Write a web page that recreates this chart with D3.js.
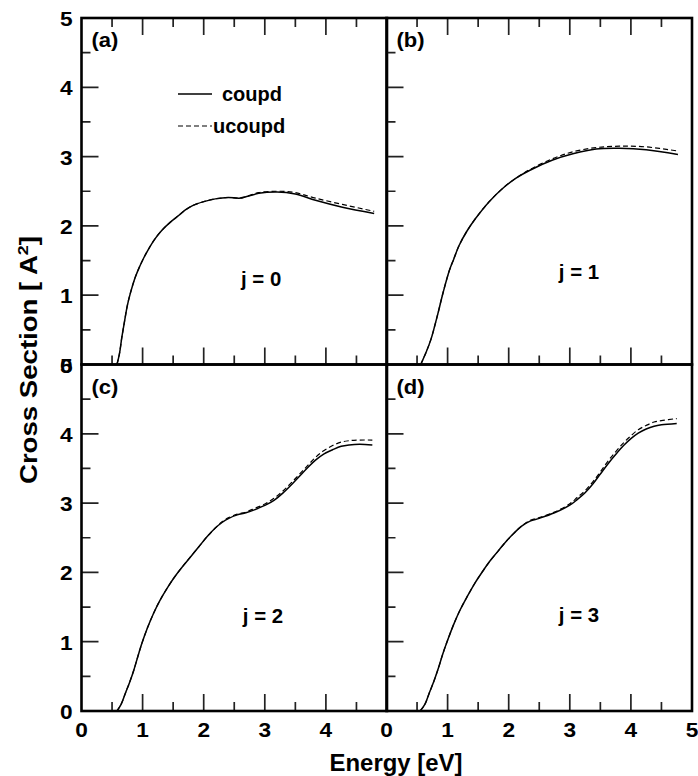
<!DOCTYPE html>
<html><head><meta charset="utf-8">
<script src="https://cdn.jsdelivr.net/npm/d3@7"></script>
<style>body{margin:0;background:#fff}svg{display:block}</style>
</head><body><svg id="c" width="698" height="776"></svg>
<script>
// ---- data ----
const panels = ["(a)", "(b)", "(c)", "(d)"];
const jLabels = ["j = 0", "j = 1", "j = 2", "j = 3"];
const seriesNames = ["coupd", "ucoupd"];
const xTickLabelsLeft = [0, 1, 2, 3, 4];
const xTickLabelsRight = [0, 1, 2, 3, 4, 5];
const yTickLabels = [0, 1, 2, 3, 4, 5];
const majorTicks = [1, 2, 3, 4];
const minorTicks = [0.5, 1.5, 2.5, 3.5, 4.5];

const aCoupd = [[0.58,0],[0.62,0.15],[0.66,0.39],[0.70,0.60],[0.75,0.85],[0.80,1.03],[0.88,1.26],[0.95,1.41],[1.02,1.54],[1.10,1.67],[1.20,1.81],[1.32,1.94],[1.45,2.05],[1.59,2.15],[1.70,2.23],[1.81,2.29],[2.0,2.35],[2.19,2.39],[2.4,2.41],[2.58,2.40],[2.69,2.42],[2.90,2.47],[3.20,2.49],[3.50,2.46],[3.83,2.37],[4.27,2.27],[4.79,2.18]];
const aUcoupd = [[0.58,0],[0.62,0.15],[0.66,0.39],[0.70,0.60],[0.75,0.85],[0.80,1.03],[0.88,1.26],[0.95,1.41],[1.02,1.54],[1.10,1.67],[1.20,1.81],[1.32,1.94],[1.45,2.05],[1.59,2.15],[1.70,2.23],[1.81,2.29],[2.0,2.35],[2.19,2.39],[2.4,2.41],[2.58,2.40],[2.69,2.42],[2.90,2.48],[3.20,2.50],[3.50,2.48],[3.83,2.40],[4.27,2.31],[4.79,2.21]];
const bCoupd = [[0.56,0],[0.65,0.18],[0.73,0.37],[0.79,0.56],[0.84,0.73],[0.93,1.05],[1.03,1.36],[1.10,1.52],[1.19,1.72],[1.32,1.93],[1.46,2.11],[1.68,2.35],[1.90,2.54],[2.12,2.69],[2.34,2.80],[2.72,2.95],[3.05,3.04],[3.43,3.11],[3.81,3.12],[4.25,3.10],[4.77,3.03]];
const bUcoupd = [[0.56,0],[0.65,0.18],[0.73,0.37],[0.79,0.56],[0.84,0.73],[0.93,1.05],[1.03,1.36],[1.10,1.52],[1.19,1.72],[1.32,1.93],[1.46,2.11],[1.68,2.35],[1.90,2.54],[2.12,2.69],[2.34,2.81],[2.72,2.97],[3.05,3.07],[3.43,3.13],[3.81,3.15],[4.25,3.14],[4.77,3.08]];
const cCoupd = [[0.58,0],[0.65,0.10],[0.72,0.26],[0.79,0.42],[0.86,0.60],[0.92,0.78],[0.99,0.98],[1.08,1.20],[1.18,1.41],[1.28,1.59],[1.40,1.77],[1.52,1.93],[1.65,2.08],[1.78,2.22],[1.92,2.37],[2.05,2.51],[2.19,2.64],[2.30,2.72],[2.41,2.78],[2.55,2.83],[2.69,2.86],[2.85,2.91],[3.01,2.97],[3.15,3.04],[3.29,3.14],[3.42,3.25],[3.56,3.38],[3.70,3.51],[3.83,3.62],[3.97,3.71],[4.11,3.77],[4.25,3.82],[4.38,3.84],[4.55,3.85],[4.76,3.84]];
const cUcoupd = [[0.58,0],[0.65,0.10],[0.72,0.26],[0.79,0.42],[0.86,0.60],[0.92,0.78],[0.99,0.98],[1.08,1.20],[1.18,1.41],[1.28,1.59],[1.40,1.77],[1.52,1.93],[1.65,2.08],[1.78,2.22],[1.92,2.37],[2.05,2.51],[2.19,2.64],[2.30,2.73],[2.41,2.79],[2.55,2.84],[2.69,2.87],[2.85,2.93],[3.01,2.99],[3.15,3.07],[3.29,3.17],[3.42,3.28],[3.56,3.41],[3.70,3.54],[3.83,3.66],[3.97,3.76],[4.11,3.83],[4.25,3.88],[4.38,3.90],[4.55,3.91],[4.76,3.91]];
const dCoupd = [[0.55,0],[0.63,0.10],[0.70,0.26],[0.78,0.44],[0.85,0.62],[0.92,0.82],[1.0,1.02],[1.1,1.25],[1.2,1.45],[1.32,1.65],[1.45,1.85],[1.57,2.01],[1.69,2.16],[1.82,2.30],[1.95,2.44],[2.08,2.56],[2.2,2.66],[2.35,2.74],[2.5,2.78],[2.75,2.86],[3.0,2.97],[3.12,3.05],[3.25,3.15],[3.38,3.28],[3.5,3.42],[3.62,3.56],[3.75,3.70],[3.88,3.83],[4.0,3.93],[4.12,4.01],[4.25,4.07],[4.38,4.11],[4.5,4.13],[4.75,4.15]];
const dUcoupd = [[0.55,0],[0.63,0.10],[0.70,0.26],[0.78,0.44],[0.85,0.62],[0.92,0.82],[1.0,1.02],[1.1,1.25],[1.2,1.45],[1.32,1.65],[1.45,1.85],[1.57,2.01],[1.69,2.16],[1.82,2.30],[1.95,2.44],[2.08,2.56],[2.2,2.66],[2.35,2.75],[2.5,2.79],[2.75,2.87],[3.0,2.99],[3.12,3.08],[3.25,3.18],[3.38,3.31],[3.5,3.45],[3.62,3.60],[3.75,3.74],[3.88,3.87],[4.0,3.97],[4.12,4.06],[4.25,4.12],[4.38,4.17],[4.5,4.19],[4.75,4.22]];
const coupd = [aCoupd, bCoupd, cCoupd, dCoupd];
const ucoupd = [aUcoupd, bUcoupd, cUcoupd, dUcoupd];

// ---- layout ----
const svg = d3.select("#c");
const font = "'Liberation Sans', Arial, Helvetica, sans-serif";
const colX = [81.5, 386.5], W = 305.5;
const rowY = [18, 364.5], H = 346.5;
const jPos = [[2.94, 268], [3.15, 261], [2.97, 258.5], [3.15, 257.5]];

function txt(parent, x, y, s, size, anchor, sx) {
  return parent.append("text")
    .attr("transform", `translate(${x},${y}) scale(${sx},1)`)
    .attr("text-anchor", anchor)
    .attr("font-family", font).attr("font-weight", "bold").attr("font-size", size)
    .attr("fill", "#000").text(s);
}

const tickSpecs = majorTicks.map(v => ({v: v, len: 17})).concat(minorTicks.map(v => ({v: v, len: 9})));
const panelScales = [];

for (let i = 0; i < 4; i++) {
  const c = i % 2, r = Math.floor(i / 2);
  const x = d3.scaleLinear().domain([0, 5]).range([colX[c], colX[c] + W]);
  const y = d3.scaleLinear().domain([0, 5]).range([rowY[r] + H, rowY[r]]);
  panelScales.push({x: x, y: y, r: r, c: c});
  const g = svg.append("g");

  // curves
  const line = d3.line().x(d => x(d[0])).y(d => y(d[1])).curve(d3.curveCatmullRom.alpha(0.5));
  g.append("path").datum(ucoupd[i]).attr("d", line).attr("fill", "none")
    .attr("stroke", "#000").attr("stroke-width", 1.2).attr("stroke-dasharray", "5,3");
  g.append("path").datum(coupd[i]).attr("d", line).attr("fill", "none")
    .attr("stroke", "#000").attr("stroke-width", 1.5);

  // panel label
  txt(g, x(0) + 10, y(5) + 29, panels[i], 20, "start", 1.1);
  // j label
  txt(g, x(jPos[i][0]), y(5) + jPos[i][1], jLabels[i], 20, "middle", 1.02);

  // y tick labels (left column)
  if (c === 0) {
    yTickLabels.forEach(v => txt(g, 72.5, y(v) + 8, d3.format("d")(v), 21, "end", 1.08));
  }
  // x tick labels (bottom row)
  if (r === 1) {
    (c === 0 ? xTickLabelsLeft : xTickLabelsRight)
      .forEach(v => txt(g, x(v), y(0) + 26, d3.format("d")(v), 21, "middle", 1.08));
  }
}

// legend in panel (a)
const lg = svg.append("g");
lg.append("path").attr("d", "M178,94H212").attr("stroke", "#000").attr("stroke-width", 1.3);
lg.append("path").attr("d", "M178,126H212").attr("stroke", "#000").attr("stroke-width", 1.2).attr("stroke-dasharray", "5,3");
txt(lg, 222, 101, seriesNames[0], 20, "start", 1.0);
txt(lg, 213, 133, seriesNames[1], 20, "start", 1.0);

// axis titles
txt(svg, 396, 771, "Energy [eV]", 23, "middle", 1.04);
const yt = svg.append("text").attr("transform", "translate(37,360) rotate(-90) scale(1.2,1)").attr("text-anchor", "middle")
  .attr("font-family", font).attr("font-weight", "bold").attr("font-size", 23);
yt.append("tspan").text("Cross Section [ A");
yt.append("tspan").attr("dy", -9).attr("font-size", 15).text("2");
yt.append("tspan").attr("dy", 9).text("]");

// ticks and frames drawn last, on top
const overlay = svg.append("g");
panelScales.forEach(ps => {
  const x = ps.x, y = ps.y, r = ps.r;
  const tp = d3.path();
  tickSpecs.forEach(t => {
    tp.moveTo(x(t.v), y(0)); tp.lineTo(x(t.v), y(0) - t.len);
    if (r === 0) { tp.moveTo(x(t.v), y(5)); tp.lineTo(x(t.v), y(5) + t.len); }
    tp.moveTo(x(0), y(t.v)); tp.lineTo(x(0) + t.len, y(t.v));
  });
  overlay.append("path").attr("d", tp.toString()).attr("fill", "none")
    .attr("stroke", "#222").attr("stroke-width", 1.7);
  overlay.append("rect").attr("x", x(0)).attr("y", y(5)).attr("width", x(5) - x(0)).attr("height", y(0) - y(5))
    .attr("fill", "none").attr("stroke", "#000").attr("stroke-width", 2.6);
});
</script></body></html>
